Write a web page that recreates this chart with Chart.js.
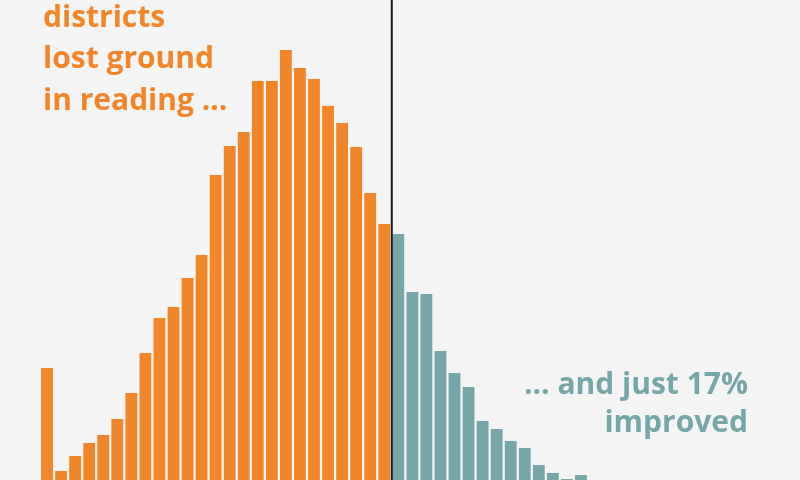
<!DOCTYPE html>
<html>
<head>
<meta charset="utf-8">
<script src="https://cdn.jsdelivr.net/npm/chart.js@4"></script>
<style>
  body { margin: 0; background: #f4f4f4; }
  #myChart { display: block; }
</style>
</head>
<body>
<canvas id="myChart" width="800" height="480"></canvas>
<script>

// change in reading score, one bin per bar (left = bigger losses)
let bins = ['-25','-24','-23','-22','-21','-20','-19','-18','-17','-16','-15','-14','-13',
            '-12','-11','-10','-9','-8','-7','-6','-5','-4','-3','-2','-1',
            '0','1','2','3','4','5','6','7','8','9','10','11','12','13'];

// number of districts in each bin
let lostGround = [112, 9, 24, 37, 45, 61, 87, 127, 162, 173, 202, 225, 305,
                  334, 348, 399, 399, 430, 412, 401, 374, 357, 333, 287, 256];
let improved = [246, 188, 186, 129, 107, 93, 59, 51, 39, 32, 15, 7, 1, 5];

let orange = '#f28527';
let teal = '#76a7a8';

let ctx = document.getElementById('myChart').getContext('2d');

let lostData = lostGround.concat(improved.map(() => null));
let improvedData = lostGround.map(() => null).concat(improved);

let splitLine = {
    id: 'splitLine',
    afterDatasetsDraw(chart) {
        let x = chart.scales.x;
        let c = chart.ctx;
        let px = (x.getPixelForValue(lostGround.length - 1) + x.getPixelForValue(lostGround.length)) / 2 + 0.5;
        c.save();
        c.strokeStyle = '#1a1a1a';
        c.lineWidth = 2;
        c.beginPath();
        c.moveTo(px, 0);
        c.lineTo(px, chart.chartArea.bottom);
        c.stroke();

        c.font = 'bold 30px "Open Sans", Roboto, sans-serif';
        c.textBaseline = 'alphabetic';
        c.fillStyle = orange;
        c.textAlign = 'left';
        c.fillText('districts', 43, 27);
        c.fillText('lost ground', 43, 68);
        c.fillText('in reading ...', 43, 110);

        c.fillStyle = teal;
        c.textAlign = 'right';
        c.fillText('... and just 17%', 748, 394);
        c.fillText('improved', 748, 432);
        c.restore();
    }
};

let myChart = new Chart(ctx, {
    type: 'bar',
    data: {
        labels: bins,
        datasets: [{
            label: 'Lost ground',
            data: lostData,
            backgroundColor: orange,
            grouped: false
        }, {
            label: 'Improved',
            data: improvedData,
            backgroundColor: teal,
            grouped: false
        }]
    },
    options: {
        responsive: false,
        animation: false,
        layout: { padding: { left: 40, right: 212, top: 0, bottom: 0 } },
        datasets: {
            bar: { barPercentage: 1, categoryPercentage: 0.84 }
        },
        plugins: {
            legend: { display: false },
            tooltip: { enabled: false }
        },
        scales: {
            x: { display: false },
            y: { display: false, min: 0, max: 480 }
        }
    },
    plugins: [splitLine]
});
</script>
</body>
</html>
